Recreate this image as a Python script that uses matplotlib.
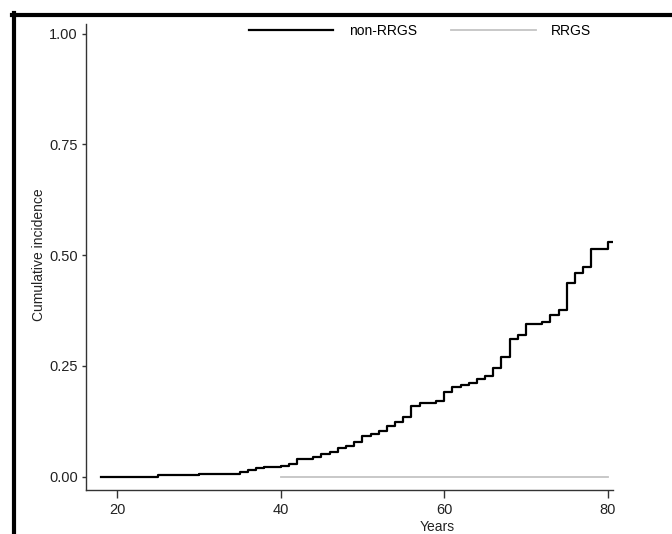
"""
Cumulative incidence step plot, non-RRGS vs RRGS (Stata style).
Run: python3 plot.py
"""

import matplotlib
matplotlib.use("Agg")
import matplotlib.pyplot as plt
from matplotlib.lines import Line2D

plt.rcParams["font.family"] = ["Liberation Sans", "DejaVu Sans"]

# ── Data ────────────────────────────────────────────────────────────────────
non_rrgs_years = [18, 25, 30, 35, 36, 37, 38, 40, 41, 42, 44, 45, 46, 47, 48,
                  49, 50, 51, 52, 53, 54, 55, 56, 57, 59, 60, 61, 62, 63, 64,
                  65, 66, 67, 68, 69, 70, 72, 73, 74, 75, 76, 77, 78, 80, 80.5]
non_rrgs_cuminc = [0.000, 0.003, 0.007, 0.011, 0.015, 0.019, 0.021, 0.024,
                   0.029, 0.040, 0.045, 0.051, 0.055, 0.064, 0.069, 0.079,
                   0.092, 0.096, 0.103, 0.114, 0.124, 0.134, 0.160, 0.167,
                   0.172, 0.192, 0.202, 0.207, 0.212, 0.220, 0.227, 0.246,
                   0.271, 0.310, 0.320, 0.345, 0.350, 0.365, 0.376, 0.437,
                   0.459, 0.473, 0.514, 0.530, 0.530]

rrgs_years = [40, 80]
rrgs_cuminc = [0.0, 0.0]

x_ticks = [20, 40, 60, 80]
y_ticks = [0.0, 0.25, 0.5, 0.75, 1.0]
y_ticklabels = ["0.00", "0.25", "0.50", "0.75", "1.00"]

# ── Figure ──────────────────────────────────────────────────────────────────
W, H = 672, 534
fig = plt.figure(figsize=(W / 100, H / 100), dpi=100)
fig.patch.set_facecolor("white")

# axes placed in pixel terms: y-axis at x=86, x-axis at y=490
ax_w = 613 - 86
ax = fig.add_axes([86 / W, (H - 490) / H, ax_w / W, (490 - 24) / H])
ax.set_xlim(16.2, 80.65)
ax.set_ylim(-0.030, 1.022)

ax.step(non_rrgs_years, non_rrgs_cuminc, where="post",
        color="black", lw=1.6, label="non-RRGS")
ax.step(rrgs_years, rrgs_cuminc, where="post",
        color="#c4c4c4", lw=1.3, label="RRGS")

for side in ("top", "right"):
    ax.spines[side].set_visible(False)
for side in ("left", "bottom"):
    ax.spines[side].set_color("#333333")
    ax.spines[side].set_linewidth(1.0)

ax.set_xticks(x_ticks)
ax.set_yticks(y_ticks)
ax.set_yticklabels(y_ticklabels)
ax.tick_params(axis="x", length=6, width=1, color="#333333",
               labelsize=10.5, pad=3, labelcolor="#222222")
ax.tick_params(axis="y", length=3, width=1, color="#333333",
               labelsize=10.5, pad=3, labelcolor="#222222")

ax.set_ylabel("Cumulative incidence", fontsize=10, color="#222222")
ax.yaxis.set_label_coords((46 - 86) / ax_w, (490 - 255) / (490 - 24))
fig.text(437 / W, (H - 527) / H, "Years", ha="center", va="center",
         fontsize=10, color="#222222")

# ── Legend ──────────────────────────────────────────────────────────────────
fig.legend(loc="center", bbox_to_anchor=(420 / W, (H - 31) / H), ncol=2,
           frameon=False, fontsize=10, handlelength=6.1, handletextpad=1.1,
           columnspacing=2.5)

# ── Outer frame (thick black on left and top, cropped elsewhere) ─────────────
fig.add_artist(Line2D([13.5 / W, 13.5 / W], [0, (H - 13) / H],
                      transform=fig.transFigure, color="black", lw=3.0))
fig.add_artist(Line2D([12 / W, 1], [(H - 15) / H, (H - 15) / H],
                      transform=fig.transFigure, color="black", lw=3.0))

fig.savefig("out.png", dpi=100, facecolor=fig.get_facecolor())
print("Saved out.png")
